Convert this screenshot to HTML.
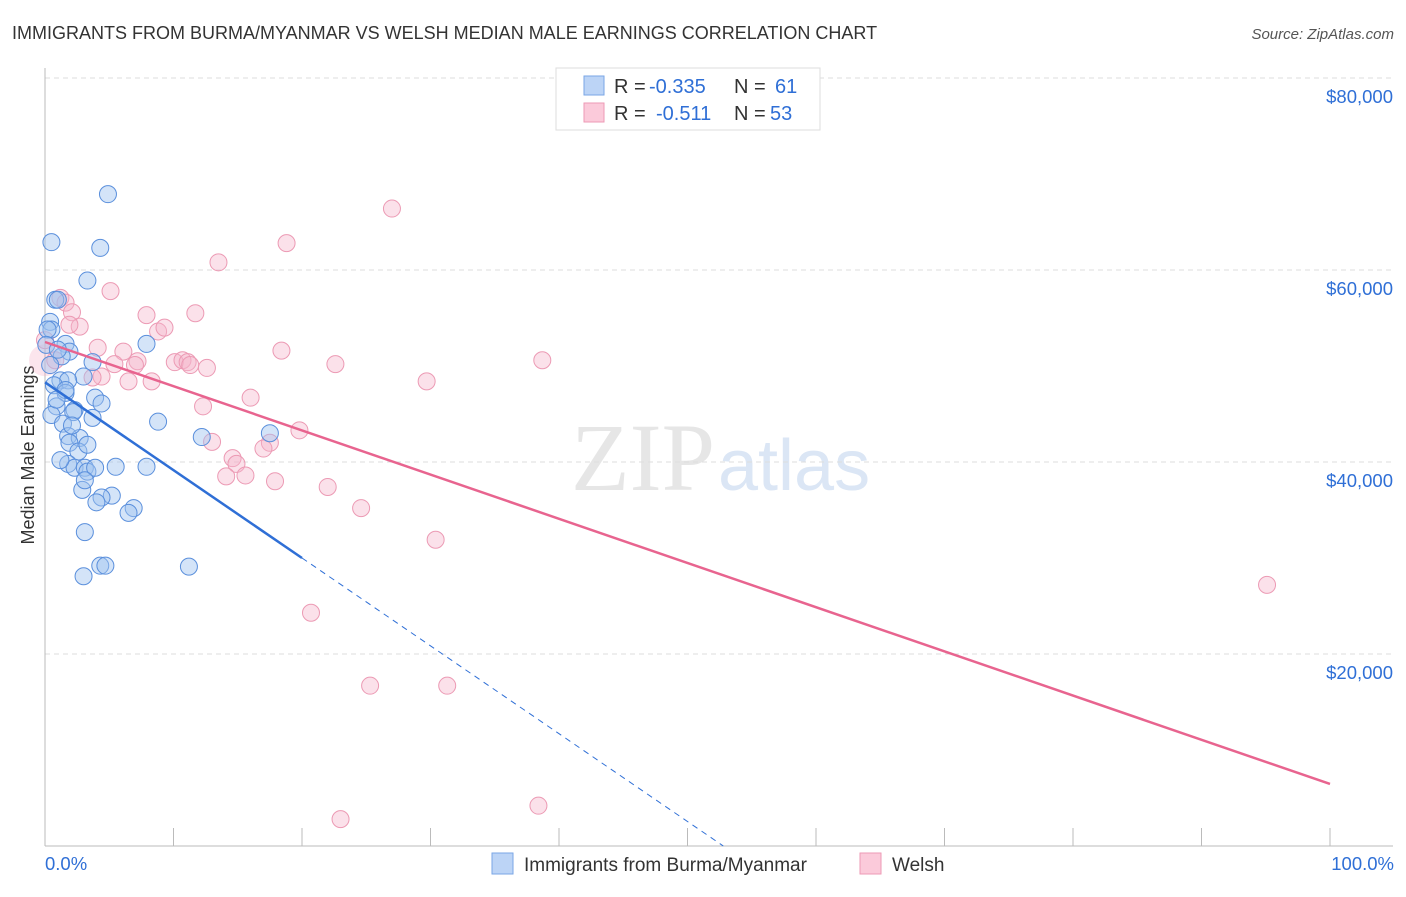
<!DOCTYPE html>
<html><head><meta charset="utf-8"><style>
body{margin:0;background:#fff;font-family:"Liberation Sans",sans-serif;}
</style></head><body>
<svg id="chart" width="1406" height="892" xmlns="http://www.w3.org/2000/svg" font-family="Liberation Sans, sans-serif">
<text x="12" y="39" font-size="18" fill="#333">IMMIGRANTS FROM BURMA/MYANMAR VS WELSH MEDIAN MALE EARNINGS CORRELATION CHART</text>
<text x="1394" y="39" font-size="15" fill="#555" text-anchor="end" font-style="italic">Source: ZipAtlas.com</text>
<text transform="translate(34,455) rotate(-90)" font-size="18" fill="#333" text-anchor="middle">Median Male Earnings</text>
<text x="715" y="490" font-size="96" fill="#e6e6e6" text-anchor="end" font-family="Liberation Serif, serif">ZIP</text>
<text x="718" y="490" font-size="72" fill="#dbe6f5">atlas</text>
<g id="grid"></g><g id="marks"></g>
<g>
<rect x="556" y="68" width="264" height="62" fill="#fff" stroke="#ddd"/>
<rect x="584" y="76" width="20" height="19" fill="#bcd4f6" stroke="#7aa6e6"/>
<rect x="584" y="103" width="20" height="19" fill="#fbcada" stroke="#ee9ab5"/>
<text x="614" y="93" font-size="20" fill="#333">R =</text>
<text x="649" y="93" font-size="20" fill="#2f6fd6">-0.335</text>
<text x="734" y="93" font-size="20" fill="#333">N =</text>
<text x="775" y="93" font-size="20" fill="#2f6fd6">61</text>
<text x="614" y="120" font-size="20" fill="#333">R =</text>
<text x="656" y="120" font-size="20" fill="#2f6fd6">-0.511</text>
<text x="734" y="120" font-size="20" fill="#333">N =</text>
<text x="770" y="120" font-size="20" fill="#2f6fd6">53</text>
</g>
<g>
<rect x="492" y="853" width="21" height="21" fill="#bcd4f6" stroke="#7aa6e6"/>
<text x="524" y="871" font-size="19" fill="#333">Immigrants from Burma/Myanmar</text>
<rect x="860" y="853" width="21" height="21" fill="#fbcada" stroke="#ee9ab5"/>
<text x="892" y="871" font-size="19" fill="#333">Welsh</text>
</g>
</svg>
<script>
const blueX=[4.9,0.5,4.3,3.3,0.8,1.0,0.4,0.5,1.6,7.9,1.9,1.3,3.7,1.2,3.0,1.8,0.7,1.6,3.9,4.4,0.9,2.3,2.2,3.7,0.5,1.4,8.8,12.2,17.5,1.8,2.7,1.9,2.6,1.8,2.3,3.1,3.3,3.9,5.5,7.9,2.9,5.2,4.4,4.0,6.9,6.5,3.1,4.3,4.7,3.0,11.2,0.2,0.1,1.0,0.4,1.6,0.9,2.1,3.3,1.2,3.1];
const blueY=[67900,62900,62300,58900,56900,56900,54600,53800,52300,52300,51500,51000,50400,48500,48900,48500,48000,47200,46700,46100,45800,45400,45200,44600,44900,44000,44200,42600,43000,42700,42500,42000,41100,39800,39400,39400,39000,39400,39500,39500,37100,36500,36300,35800,35200,34700,32700,29200,29200,28100,29100,53800,52200,51700,50100,47500,46500,43800,41800,40200,38100];
const pinkX=[27.0,18.8,13.5,5.1,1.2,1.6,2.1,7.9,11.7,2.7,8.8,9.3,0.0,4.1,6.1,10.1,10.7,11.1,11.3,12.6,7.2,5.4,4.4,3.7,6.5,8.3,18.4,22.6,38.7,29.7,12.3,16.0,19.8,13.0,14.6,14.9,17.5,17.0,14.1,15.6,17.9,22.0,24.6,30.4,95.1,20.7,25.3,31.3,23.0,38.4,0.8,1.9,7.0];
const pinkY=[66400,62800,60800,57800,57100,56600,55600,55300,55500,54100,53600,54000,52700,51900,51500,50400,50600,50400,50100,49800,50500,50200,48900,48800,48400,48400,51600,50200,50600,48400,45800,46700,43300,42100,40400,39800,42000,41400,38500,38600,38000,37400,35200,31900,27200,24300,16700,16700,2800,4200,50600,54300,50100];
const yTicks=[20000,40000,60000,80000];
const xTickLabels=["0.0%","100.0%"];
const blueFit=[48300,30000,20];
const pinkFit=[52500,6460,100];
const X=v=>45+v*12.85, Y=v=>846-v*192/20000;
const NS="http://www.w3.org/2000/svg";
function mk(t,a,p){const e=document.createElementNS(NS,t);for(const k in a)e.setAttribute(k,a[k]);p.appendChild(e);return e;}
const g=document.getElementById('grid'), m=document.getElementById('marks');
yTicks.forEach(v=>{
 const l=mk('line',{x1:45,x2:1393,y1:Y(v),y2:Y(v),stroke:'#ddd','stroke-dasharray':'5,4'},g);
 
 
 const t=mk('text',{x:1393,y:Y(v)+25,'font-size':18.5,fill:'#2f6fd6','text-anchor':'end'},g);
 t.textContent='$'+v.toLocaleString('en-US');
 
 
});
mk('line',{x1:45,x2:45,y1:68,y2:846,stroke:'#bbb'},g);
mk('line',{x1:45,x2:1393,y1:846,y2:846,stroke:'#bbb'},g);
for(let i=0;i<=10;i++){const l=mk('line',{x1:X(i*10),x2:X(i*10),y1:828,y2:846,stroke:'#bbb'},g);
 
 }
xTickLabels.forEach((s,i)=>{const t=mk('text',{x:i?1394:45,y:870,'font-size':18.5,fill:'#2f6fd6','text-anchor':i?'end':'start'},g);
 t.textContent=s;
 
 });
const big=mk('circle',{cx:X(0),cy:Y(50600),r:16,fill:'rgba(245,170,195,0.3)'},m);


pinkX.forEach((x,i)=>{const c=mk('circle',{cx:X(x),cy:Y(pinkY[i]),r:8.5,fill:'rgba(246,180,202,0.4)',stroke:'#ec9ab4','stroke-width':1},m);
 
 });
blueX.forEach((x,i)=>{const c=mk('circle',{cx:X(x),cy:Y(blueY[i]),r:8.5,fill:'rgba(160,196,240,0.45)',stroke:'#5a8fdc','stroke-width':1},m);
 
 });
const bs=(blueFit[1]-blueFit[0])/blueFit[2], xz=-blueFit[0]/bs;
const bl=mk('line',{x1:X(0),y1:Y(blueFit[0]),x2:X(blueFit[2]),y2:Y(blueFit[1]),stroke:'#2f6fd6','stroke-width':2.5},m);


const bd=mk('line',{x1:X(blueFit[2]),y1:Y(blueFit[1]),x2:X(xz),y2:Y(0),stroke:'#2f6fd6','stroke-width':1,'stroke-dasharray':'6,5'},m);


const pl=mk('line',{x1:X(0),y1:Y(pinkFit[0]),x2:X(pinkFit[2]),y2:Y(pinkFit[1]),stroke:'#e8648f','stroke-width':2.5},m);


</script>
</body></html>
